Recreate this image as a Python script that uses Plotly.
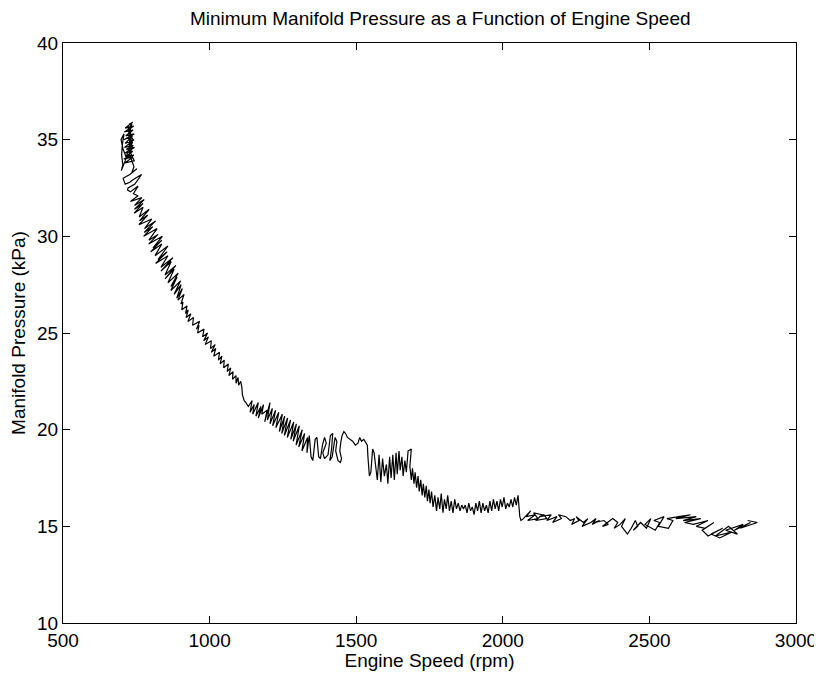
import plotly.graph_objects as go

# engine speed (rpm) and minimum manifold pressure (kPa) in sequence,
# split into stretches along the curve
rpm_a = [725, 738, 712, 741, 709, 739, 714, 743, 708, 737, 712, 742, 710, 740, 716, 744, 709, 738, 713, 742, 707, 739, 711, 743,
         728, 739, 720, 735, 724, 737, 718,
         705, 698, 708, 702, 700, 704, 699, 712, 725, 731, 722, 733, 726, 742, 735, 752, 728, 705, 712, 728,
         736, 768, 745, 722, 720, 730, 756, 740]
kpa_a = [35.8, 35.9, 35.6, 35.7, 35.4, 35.5, 35.2, 35.3, 35.0, 35.2, 34.8, 35.0, 34.6, 34.7, 34.5, 34.6, 34.3, 34.4, 34.1, 34.2, 34.0, 34.1, 33.8, 33.9,
         34.4, 35.0, 35.5, 35.8, 35.2, 34.6, 34.0,
         34.5, 35.0, 35.3, 34.7, 34.2, 33.7, 33.4, 33.9, 34.6, 35.4, 35.7, 35.1, 34.3, 33.6, 33.3, 33.5, 33.2, 33.0, 32.7, 32.8,
         32.9, 33.2, 32.7, 32.5, 32.4, 32.3, 32.6, 32.2]

rpm_b = [756, 730, 769, 744, 777, 744, 773, 743, 773, 760, 794, 761, 789, 759, 803, 778, 816, 777, 806, 775,
         821, 793, 824, 792, 839, 807, 837, 799, 837, 814, 858, 824, 855, 816, 858, 834, 875, 834, 869, 848,
         885, 848, 879, 858, 893, 868, 889, 868, 901, 879, 903, 888, 907, 892, 913, 902]
kpa_b = [32.1, 31.8, 32.0, 31.6, 31.9, 31.4, 31.7, 31.2, 31.5, 31.0, 31.4, 30.8, 31.1, 30.6, 30.9, 30.4, 30.8, 30.2, 30.5, 30.0,
         30.4, 29.8, 30.1, 29.6, 30.0, 29.4, 29.8, 29.2, 29.6, 29.0, 29.5, 28.8, 29.2, 28.6, 29.0, 28.4, 28.9, 28.2, 28.7, 28.0,
         28.5, 27.8, 28.3, 27.6, 28.1, 27.4, 27.9, 27.2, 27.7, 27.0, 27.5, 26.8, 27.3, 26.7, 27.0, 26.5]

rpm_c = [909, 905, 923, 918, 927, 920, 936, 926, 945, 942, 966, 955, 964, 959, 981, 976, 993, 980, 996, 985,
         1006, 1003, 1019, 1006, 1021, 1014, 1034, 1030, 1042, 1036, 1050, 1048, 1064, 1060, 1072, 1066, 1080, 1078, 1090, 1090,
         1097, 1099, 1106, 1110, 1112, 1118, 1124]
kpa_c = [26.6, 26.2, 26.4, 26.0, 26.2, 25.8, 26.0, 25.6, 25.8, 25.4, 25.6, 25.2, 25.4, 25.0, 25.2, 24.8, 25.0, 24.6, 24.8, 24.4,
         24.6, 24.2, 24.4, 24.0, 24.2, 23.8, 24.0, 23.6, 23.8, 23.4, 23.6, 23.2, 23.4, 23.0, 23.2, 22.8, 23.0, 22.6, 22.8, 22.4,
         22.7, 22.3, 22.5, 22.2, 21.8, 21.5, 21.4]

rpm_d = [1132, 1145, 1138, 1152, 1147, 1166, 1158, 1175, 1166, 1184, 1178, 1196, 1188, 1206, 1197, 1214, 1206, 1225, 1215, 1236,
         1226, 1248, 1238, 1256, 1246, 1266, 1255, 1276, 1265, 1287, 1277, 1296, 1285, 1306, 1295, 1316, 1304, 1324, 1315, 1334,
         1332]
kpa_d = [21.2, 21.5, 20.9, 21.3, 20.8, 21.4, 20.7, 21.2, 20.6, 21.3, 20.8, 21.0, 20.4, 21.4, 20.5, 21.1, 20.3, 21.0, 20.2, 20.9,
         20.1, 20.8, 19.9, 20.7, 19.8, 20.6, 19.7, 20.5, 19.6, 20.4, 19.5, 20.3, 19.4, 20.2, 19.2, 20.0, 19.1, 19.8, 18.9, 19.6,
         18.8]

rpm_e = [1340, 1346, 1352, 1360, 1366, 1372, 1378, 1385, 1392, 1398, 1386, 1392, 1404, 1412, 1420, 1416, 1410, 1418, 1428, 1434,
         1430, 1438, 1446, 1450, 1444, 1448, 1452, 1458, 1464, 1470, 1478, 1488, 1497, 1506, 1512, 1518, 1526, 1533, 1538, 1540,
         1542, 1545, 1550]
kpa_e = [19.7, 18.6, 18.4, 19.5, 19.6, 18.6, 18.5, 19.2, 19.6, 19.3, 18.8, 18.5, 18.7, 19.7, 19.8, 19.0, 18.4, 18.6, 19.6, 19.4,
         18.9, 18.4, 18.3, 18.5, 18.9, 19.4, 19.7, 19.9, 19.8, 19.6, 19.5, 19.4, 19.2, 19.3, 19.6, 19.4, 19.5, 19.3, 19.2, 18.6,
         18.0, 17.6, 17.8]

rpm_f = [1556, 1561, 1566, 1572, 1578, 1584, 1590, 1596, 1603, 1608, 1614, 1619, 1625, 1630, 1636, 1640, 1646, 1650, 1656, 1660,
         1666, 1671, 1677, 1688]
kpa_f = [19.0, 18.8, 18.2, 17.4, 18.7, 17.3, 18.5, 17.6, 18.2, 17.2, 18.6, 17.5, 18.7, 17.4, 18.8, 17.7, 18.9, 17.9, 18.6, 17.6,
         18.4, 17.8, 18.9, 19.0]

rpm_g = [1683, 1688, 1692, 1697, 1701, 1706, 1711, 1715, 1720, 1725, 1729, 1734, 1739, 1743, 1748, 1752, 1757, 1762]
kpa_g = [18.1, 17.4, 18.0, 17.2, 17.8, 17.0, 17.6, 16.8, 17.4, 16.6, 17.2, 16.5, 17.1, 16.3, 16.9, 16.2, 16.8, 16.0]

rpm_h = [1768, 1774, 1779, 1785, 1790, 1796, 1801, 1807, 1812, 1818, 1824, 1830, 1836, 1842, 1848, 1854, 1860, 1866, 1872, 1878,
         1884, 1890, 1896, 1902, 1908, 1914, 1920, 1926, 1932, 1938, 1944, 1950, 1956, 1962, 1968, 1974, 1980, 1986, 1992, 1998,
         2004, 2010, 2016, 2022, 2028, 2034, 2040, 2046, 2052, 2055, 2058, 2062]
kpa_h = [16.6, 15.8, 16.5, 15.9, 16.7, 15.7, 16.4, 15.9, 16.6, 15.8, 16.3, 15.7, 16.4, 15.9, 16.2, 15.8, 16.1, 15.9, 16.1, 15.7,
         16.2, 15.8, 16.0, 15.6, 16.2, 15.8, 16.3, 15.7, 16.2, 15.8, 16.1, 15.7, 16.3, 15.8, 16.4, 15.9, 16.3, 15.8, 16.4, 16.0,
         16.5, 15.9, 16.2, 16.0, 16.4, 16.0, 16.5, 16.1, 16.6, 16.0, 15.5, 15.3]

rpm_i = [2070, 2095, 2080, 2110, 2085, 2120, 2105, 2135, 2112, 2150, 2140, 2125, 2165, 2150, 2185, 2170, 2200, 2190, 2215, 2230,
         2245, 2235, 2260, 2250, 2275, 2290, 2270, 2300, 2318, 2305, 2330, 2312, 2345, 2360, 2340, 2375, 2392, 2380, 2400, 2418,
         2405, 2425, 2438, 2452, 2460, 2445, 2470]
kpa_i = [15.4, 15.8, 15.5, 15.6, 15.3, 15.4, 15.7, 15.6, 15.3, 15.4, 15.6, 15.5, 15.6, 15.3, 15.5, 15.2, 15.4, 15.6, 15.5, 15.3,
         15.4, 15.1, 15.3, 15.5, 15.2, 15.4, 15.0, 15.2, 15.4, 15.1, 15.3, 15.2, 15.3, 15.1, 15.0, 15.4, 15.2, 14.9, 15.1, 15.4,
         15.0, 14.6, 14.9, 15.3, 15.0, 14.8, 15.2]

rpm_j = [2490, 2505, 2485, 2520, 2535, 2515, 2550, 2530, 2565, 2580, 2560, 2600, 2640, 2590, 2660, 2615, 2675, 2620, 2650, 2700,
         2660, 2690, 2720, 2680, 2700, 2750, 2710, 2740, 2780, 2725, 2770, 2800, 2760, 2820, 2790, 2845, 2810, 2868, 2835]
kpa_j = [14.9, 15.4, 15.1, 14.8, 15.2, 15.3, 15.5, 15.0, 14.9, 15.3, 15.4, 15.5, 15.6, 15.4, 15.5, 15.3, 15.4, 15.2, 15.1, 15.3,
         15.0, 14.9, 15.2, 14.8, 14.5, 14.9, 14.6, 14.4, 14.7, 14.5, 15.0, 14.6, 14.8, 15.1, 14.8, 15.2, 14.9, 15.2, 15.3]

rpm = rpm_a + rpm_b + rpm_c + rpm_d + rpm_e + rpm_f + rpm_g + rpm_h + rpm_i + rpm_j
kpa = kpa_a + kpa_b + kpa_c + kpa_d + kpa_e + kpa_f + kpa_g + kpa_h + kpa_i + kpa_j
assert len(rpm) == len(kpa)

font = dict(family="Liberation Sans, Arial, sans-serif", size=19, color="black")

fig = go.Figure(go.Scatter(x=rpm, y=kpa, mode="lines",
                           line=dict(color="black", width=1.2), showlegend=False))

axis = dict(showline=True, linecolor="black", linewidth=1.3, mirror="ticks",
            ticks="inside", ticklen=7, tickcolor="black", tickwidth=1,
            showgrid=False, zeroline=False, tickfont=font,
            automargin=False, ticklabeloverflow="allow")

# page body keeps its default 8px margin; the figure runs to the window's right edge
fig.update_layout(
    width=814, height=663,
    margin=dict(l=55, r=26, t=35, b=48),
    paper_bgcolor="white", plot_bgcolor="white",
    font=font,
    title=dict(text="Minimum Manifold Pressure as a Function of Engine Speed",
               x=0.531, xanchor="center", y=1 - 10 / 663, yanchor="middle",
               font=font),
    xaxis=dict(range=[500, 3000], tickvals=[500, 1000, 1500, 2000, 2500, 3000],
               title=dict(text="Engine Speed (rpm)", font=font, standoff=6), **axis),
    yaxis=dict(range=[10, 40], tickvals=[10, 15, 20, 25, 30, 35, 40],
               title=dict(text="Manifold Pressure (kPa)", font=font, standoff=6), **axis),
)

fig.write_html("out.html", config={"displayModeBar": False})
